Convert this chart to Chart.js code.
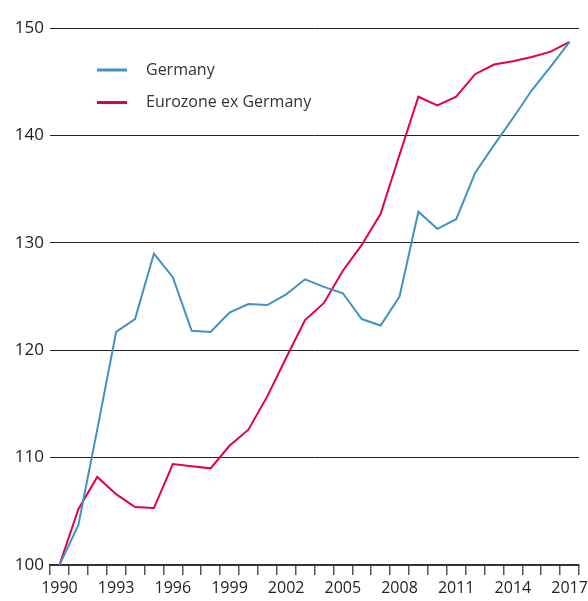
<!DOCTYPE html>
<html>
<head>
<meta charset="utf-8">
<script src="https://cdn.jsdelivr.net/npm/chart.js@4"></script>
<style>
  html, body { margin: 0; padding: 0; background: #fff; }
  #wrap { width: 588px; height: 601px; }
</style>
</head>
<body>
<div id="wrap"><canvas id="chart"></canvas></div>
<script>
var years = [];
for (var y = 1990; y <= 2017; y++) years.push(String(y));

var germany = [100, 103.7, 112.6, 121.7, 122.9, 129.0, 126.8, 121.8, 121.7, 123.5,
  124.3, 124.2, 125.2, 126.6, 125.9, 125.3, 122.9, 122.3, 125.0, 132.9,
  131.3, 132.2, 136.5, 139.1, 141.6, 144.2, 146.4, 148.7];

var eurozoneExGermany = [100, 105.2, 108.2, 106.6, 105.4, 105.3, 109.4, 109.2, 109.0, 111.1,
  112.6, 115.7, 119.3, 122.8, 124.4, 127.4, 129.8, 132.7, 138.2, 143.6,
  142.8, 143.6, 145.7, 146.6, 146.9, 147.3, 147.8, 148.7];

var seriesNames = ['Germany', 'Eurozone ex Germany'];
var seriesColors = ['#3f93c4', '#e2004c'];

var FONT = '"Open Sans", "Noto Sans", sans-serif';

// legend drawn inside the plot, top left
var insideLegend = {
  id: 'insideLegend',
  afterDraw: function (chart) {
    var c = chart.ctx;
    var a = chart.chartArea;
    c.save();
    c.font = '16px ' + FONT;
    c.textBaseline = 'middle';
    chart.data.datasets.forEach(function (ds, i) {
      var yy = a.top + 42 + i * 32.5;
      c.strokeStyle = ds.borderColor;
      c.lineWidth = 3;
      c.beginPath();
      c.moveTo(a.left + 47, yy);
      c.lineTo(a.left + 77, yy);
      c.stroke();
      c.fillStyle = '#333';
      c.fillText(ds.label, a.left + 96, yy);
    });
    c.restore();
  }
};

new Chart(document.getElementById('chart'), {
  type: 'line',
  data: {
    labels: years,
    datasets: [{
      label: seriesNames[0],
      data: germany,
      borderColor: seriesColors[0],
      borderWidth: 2,
      pointRadius: 0,
      tension: 0
    }, {
      label: seriesNames[1],
      data: eurozoneExGermany,
      borderColor: seriesColors[1],
      borderWidth: 2,
      pointRadius: 0,
      tension: 0
    }]
  },
  options: {
    responsive: true,
    maintainAspectRatio: false,
    animation: false,
    layout: { padding: { top: 28, left: 0, right: 0, bottom: 0 } },
    plugins: {
      legend: { display: false },
      tooltip: { enabled: false }
    },
    scales: {
      x: {
        offset: true,
        afterFit: function (s) { s.height = 36; s.paddingRight = 9; },
        grid: {
          offset: true,
          drawOnChartArea: false,
          drawTicks: true,
          tickLength: 10,
          color: '#555',
          lineWidth: 1.5
        },
        border: { display: true, color: '#333', width: 2 },
        ticks: {
          autoSkip: false,
          maxRotation: 0,
          padding: 4,
          color: '#222',
          font: { family: FONT, size: 16 },
          callback: function (v, i) {
            return (i % 3 === 0) ? years[i] : '';
          }
        }
      },
      y: {
        min: 100,
        max: 150,
        afterFit: function (s) { s.width = 50; },
        ticks: {
          stepSize: 10,
          padding: 6,
          color: '#222',
          font: { family: FONT, size: 17 }
        },
        grid: {
          drawTicks: false,
          color: '#222',
          lineWidth: 1
        },
        border: { display: false }
      }
    }
  },
  plugins: [insideLegend]
});
</script>
</body>
</html>
